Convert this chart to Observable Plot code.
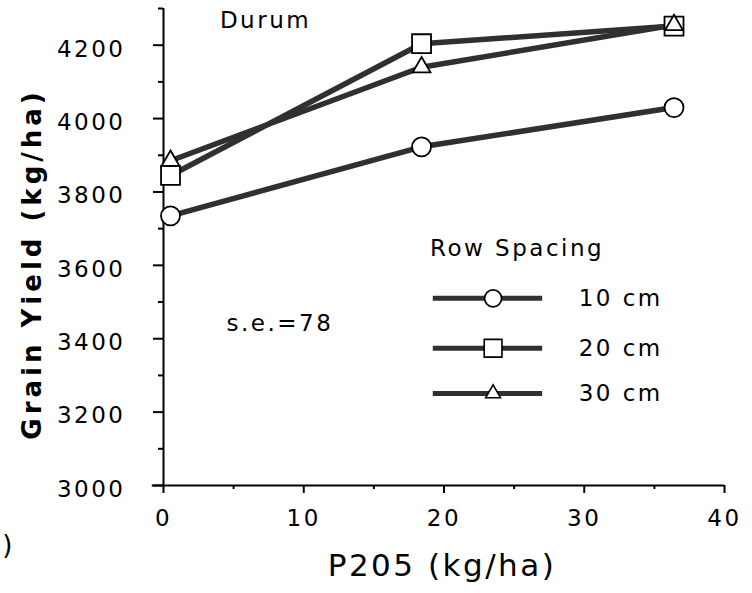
<!DOCTYPE html>
<html><head><meta charset="utf-8">
<script src="https://cdn.jsdelivr.net/npm/d3@7"></script>
<script src="https://cdn.jsdelivr.net/npm/@observablehq/plot@0.6"></script>
<style>
body{margin:0;background:#fff}
#chart svg{display:block}
#chart svg text{letter-spacing:2.5px}
</style>
</head><body><div id="chart"></div>
<script>
// ---- data ----
const phosphorus = [0.5, 18.4, 36.4];           // P2O5 (kg/ha)
const spacings = ["10 cm", "20 cm", "30 cm"];
const yield10 = [3735, 3923, 4030];
const yield20 = [3845, 4204, 4252];
const yield30 = [3885, 4140, 4255];
const symbols = ["circle", "square", "triangle"];
const xMajorTicks = [0, 10, 20, 30, 40];
const xMinorTicks = [5, 15, 25, 35];
const yMajorTicks = [3000, 3200, 3400, 3600, 3800, 4000, 4200];
const yMinorTicks = [3100, 3300, 3500, 3700, 3900, 4100, 4300];
const title = "Durum";
const seNote = "s.e.=78";
const legendTitle = "Row Spacing";
const xLabel = "P205 (kg/ha)";
const yLabel = "Grain Yield (kg/ha)";

const series = [yield10, yield20, yield30];
const rows = [];
series.forEach((arr, i) => arr.forEach((v, j) => rows.push({spacing: spacings[i], p: phosphorus[j], y: v})));

// ---- legend layout (in data units) ----
const legX1 = 19.2, legX2 = 27.0, legSym = 23.5, legText = 29.6;
const legRowY = [3510, 3374, 3251];
const legend = spacings.map((s, i) => ({spacing: s, y: legRowY[i]}));

const font = "'DejaVu Sans', sans-serif";
const lineColor = "#303030";
const symR = {circle: 9.5, square: 10.7, triangle: 6.6};
const legR = {circle: 8.5, square: 10, triangle: 5.5};
const fmt = d3.format("d");
const blank = () => "";

const marks = [
  // axis lines and ticks
  Plot.ruleX([0], {y1: 3000, y2: 4300, stroke: "black", strokeWidth: 2}),
  Plot.ruleY([3000], {x1: -0.8, x2: 40, stroke: "black", strokeWidth: 2}),
  Plot.axisY(yMajorTicks, {tickSize: 10, tickFormat: blank, label: null, strokeWidth: 2}),
  Plot.axisY(yMinorTicks, {tickSize: 5, tickFormat: blank, label: null, strokeWidth: 2}),
  Plot.axisX(xMajorTicks, {tickSize: 8, tickFormat: blank, label: null, strokeWidth: 2}),
  Plot.axisX(xMinorTicks, {tickSize: 4, tickFormat: blank, label: null, strokeWidth: 2}),
  // tick labels
  Plot.text(yMajorTicks, {y: d => d, frameAnchor: "left", dx: -38, dy: 4, textAnchor: "end", lineAnchor: "middle", text: fmt, fontSize: 23}),
  Plot.text(xMajorTicks, {x: d => d, frameAnchor: "bottom", dy: 33, textAnchor: "middle", lineAnchor: "middle", text: fmt, fontSize: 23}),
  // data lines
  Plot.line(rows, {x: "p", y: "y", z: "spacing", stroke: lineColor, strokeWidth: 5.5, strokeLinejoin: "round"}),
];
spacings.forEach((s, i) => {
  marks.push(Plot.dot(rows.filter(d => d.spacing === s), {
    x: "p", y: "y", symbol: symbols[i], r: symR[symbols[i]],
    fill: "white", stroke: "black", strokeWidth: 1.8
  }));
});
// legend
marks.push(
  Plot.link(legend, {x1: legX1, x2: legX2, y1: "y", y2: "y", stroke: lineColor, strokeWidth: 5})
);
legend.forEach((d, i) => {
  marks.push(Plot.dot([d], {x: legSym, y: "y", symbol: symbols[i], r: legR[symbols[i]],
    fill: "white", stroke: "black", strokeWidth: 1.6}));
});
marks.push(
  Plot.text(legend, {x: legText, y: "y", text: "spacing", textAnchor: "start", fontSize: 23}),
  Plot.text([legendTitle], {x: legX1 - 0.2, y: 3646, text: d => d, textAnchor: "start", fontSize: 23}),
  // annotations
  Plot.text([title], {frameAnchor: "top-left", dx: 102, dy: 12, text: d => d, textAnchor: "middle", fontSize: 23, lineAnchor: "middle"}),
  Plot.text([seNote], {frameAnchor: "top-left", dx: 63, dy: 315, text: d => d, textAnchor: "start", fontSize: 23, lineAnchor: "middle"}),
  // axis titles
  Plot.text([xLabel], {frameAnchor: "bottom", dx: -2, dy: 81, text: d => d, textAnchor: "middle", fontSize: 31, lineAnchor: "middle"}),
  Plot.text([yLabel], {frameAnchor: "left", dx: -131, dy: 17, text: d => d, rotate: -90, textAnchor: "middle", fontSize: 26, fontWeight: "bold", lineAnchor: "middle"}),
  Plot.text([")"], {frameAnchor: "bottom-left", dx: -155, dy: 60, text: d => d, textAnchor: "middle", fontSize: 26, lineAnchor: "middle"})
);

const chart = Plot.plot({
  width: 752,
  height: 593,
  marginLeft: 163,
  marginRight: 28,
  marginTop: 8,
  marginBottom: 108,
  x: {domain: [0, 40]},
  y: {domain: [3000, 4300]},
  style: {fontFamily: font, fontSize: "23px", color: "black", background: "white"},
  marks
});
document.getElementById("chart").appendChild(chart);
d3.select(chart).selectAll("text").filter(function() { return this.textContent === yLabel; })
  .style("letter-spacing", "4px");
</script>
</body></html>
